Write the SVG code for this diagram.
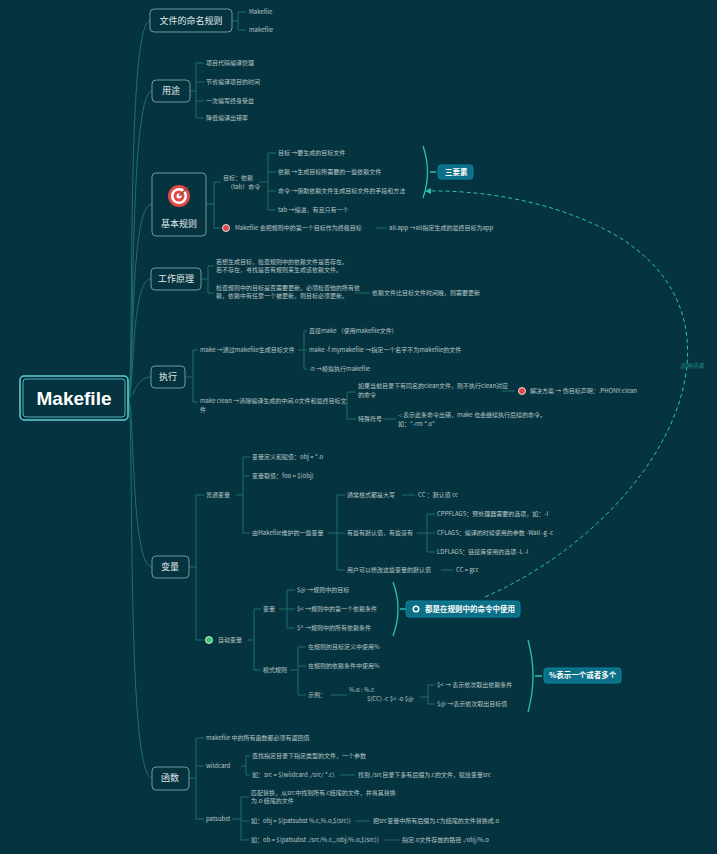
<svg xmlns="http://www.w3.org/2000/svg" width="717" height="854" viewBox="0 0 717 854">
<defs>
<style>
.c{fill:none;stroke:#1f6f6b;stroke-width:1}
.t{font-family:"Noto Sans CJK SC","Liberation Sans",sans-serif;font-size:6px;fill:#b9c6c6}
.b{fill:#053440;stroke:#6f9a9a;stroke-width:1}
.bt{font-family:"Noto Sans CJK SC","Liberation Sans",sans-serif;font-size:9px;fill:#e0e8e8;text-anchor:middle}
.tag{fill:#0b6f87;stroke:#0e85a0}
.tt{font-family:"Noto Sans CJK SC","Liberation Sans",sans-serif;font-size:7.5px;fill:#fff;font-weight:bold}
.br{fill:none;stroke:#2fc0b0;stroke-width:1.3}
</style>
<marker id="ah" markerWidth="6" markerHeight="6" refX="5" refY="3" orient="auto"><path d="M0,0 L6,3 L0,6 z" fill="#2fc0b0"/></marker>
</defs>
<rect width="717" height="854" fill="#053440"/>
<g id="connectors">
<path class="c" d="M128,398 C135,398 125,21 150,21 M128,398 C135,398 128,91 152,91 M128,398 C135,398 128,204 152,204 M128,398 C135,398 130,279 151,279 M128,398 C135,398 135,377 151,377 M128,398 C135,398 130,567 152,567 M128,398 C135,398 125,778 152,778"/>
<path class="c" d="M232,21 H238 M238,12 V30 M238,12 H246 M238,30 H246"/>
<path class="c" d="M190,91 H196 M196,63 V118 M196,63 H204 M196,82 H204 M196,101 H204 M196,118 H204"/>
<path class="c" d="M206,204 H214 M214,182 V228 M214,182 H221 M214,228 H221 M259,182 H268 M268,153 V210 M268,153 H276 M268,172 H276 M268,191 H276 M268,210 H276 M376,228 H387"/>
<path class="c" d="M201,279 H208 M208,266 V293 M208,266 H214 M208,293 H214 M355,293 H370"/>
<path class="c" d="M185,377 H193 M193,350 V402 M193,350 H198 M193,402 H198 M298,350 H304 M304,331 V369 M304,331 H307 M304,350 H307 M304,369 H307 M342,404 H347 M347,392 V419 M347,392 H356 M347,419 H356 M502,391 H515 M383,419 H396"/>
<path class="c" d="M189,567 H196 M196,495 V640 M196,495 H204 M196,640 H204 M236,495 H243 M243,457 V533 M243,457 H250 M243,476 H250 M243,533 H250 M328,533 H337 M337,495 V570 M337,495 H345 M337,533 H345 M337,570 H345 M402,495 H415 M417,533 H427 M427,514 V552 M427,514 H435 M427,533 H435 M427,552 H435 M441,570 H453"/>
<path class="c" d="M248,640 H254 M254,609 V670 M254,609 H261 M254,670 H261 M279,609 H287 M287,590 V628 M287,590 H295 M287,609 H295 M287,628 H295 M290,670 H298 M298,647 V695 M298,647 H306 M298,666 H306 M298,695 H306 M331,695 H347 M420,697 H428 M428,685 V704 M428,685 H435 M428,704 H435"/>
<path class="c" d="M189,778 H196 M196,738 V819 M196,738 H204 M196,766 H204 M196,819 H204 M241,766 H246 M246,756 V775 M246,756 H250 M246,775 H250 M340,775 H355 M232,819 H241 M241,797 V840 M241,797 H249 M241,821 H249 M241,840 H249 M356,821 H370 M385,840 H399"/>
<path class="br" d="M423,146 Q432,172 423,198 M430,172 H436"/>
<path class="br" d="M393,582 Q403,609 393,636 M400,609 H406"/>
<path class="br" d="M528,640 Q538,676 528,712 M535,676 H542"/>
<path d="M485,597 C660,520 770,320 610,232 C550,200 480,190 426,191" fill="none" stroke="#2fc0b0" stroke-width="1" stroke-dasharray="4,3" marker-end="url(#ah)"/>
</g>
<g id="main">
<rect x="20" y="376" width="108" height="44" rx="4" fill="#053440" stroke="#5fd0d6" stroke-width="1.5"/>
<rect x="23" y="379" width="102" height="38" rx="3" fill="none" stroke="#5fd0d6" stroke-width="0.8"/>
<text x="74" y="405" font-family="Liberation Sans,sans-serif" font-size="19" font-weight="bold" fill="#fff" text-anchor="middle">Makefile</text>
</g>
<g id="n-naming"><rect class="b" x="150" y="9" width="82" height="23" rx="4"/><text class="bt" x="191" y="24">文件的命名规则</text>
<text class="t" x="249" y="14">Makefile</text><text class="t" x="249" y="32">makefile</text></g>
<g id="n-use"><rect class="b" x="152" y="80" width="38" height="22" rx="4"/><text class="bt" x="171" y="94">用途</text>
<text class="t" x="206" y="65">项目代码编译管理</text><text class="t" x="206" y="84">节省编译项目的时间</text><text class="t" x="206" y="103">一次编写终身受益</text><text class="t" x="206" y="120">降低编译出错率</text></g>
<g id="n-basic"><rect class="b" x="152" y="173" width="54" height="63" rx="4"/>
<circle cx="179" cy="196" r="11" fill="#e04848"/><circle cx="179" cy="196" r="8" fill="#fff"/><circle cx="179" cy="196" r="5.5" fill="#e04848"/><circle cx="179" cy="196" r="2.5" fill="#fff"/><path d="M179,196 L188,187" stroke="#7a5030" stroke-width="1.5"/>
<text class="bt" x="179" y="227">基本规则</text>
<text class="t" x="223" y="180">目标：依赖</text><text class="t" x="227" y="189">（tab）命令</text>
<text class="t" x="278" y="155">目标 →要生成的目标文件</text><text class="t" x="278" y="174">依赖 →生成目标所需要的一些依赖文件</text><text class="t" x="278" y="193">命令 →借助依赖文件生成目标文件的手段和方法</text><text class="t" x="278" y="212">tab →缩进，有且只有一个</text>
<rect class="tag" x="438" y="165" width="35" height="14" rx="3"/><text class="tt" x="445" y="175">三要素</text>
<circle cx="226" cy="228" r="3.5" fill="#e04848" stroke="#fff" stroke-width="0.8"/>
<text class="t" x="235" y="230">Makefile 会把规则中的第一个目标作为终极目标</text><text class="t" x="389" y="230">all:app →all指定生成的最终目标为app</text></g>
<g id="n-work"><rect class="b" x="151" y="268" width="50" height="22" rx="4"/><text class="bt" x="176" y="282">工作原理</text>
<text class="t" x="216" y="264">若想生成目标，检查规则中的依赖文件是否存在。</text><text class="t" x="216" y="272">若不存在，寻找是否有规则来生成该依赖文件。</text>
<text class="t" x="216" y="290">检查规则中的目标是否需要更新，必须检查他的所有依</text><text class="t" x="216" y="298">赖，依赖中有任意一个被更新，则目标必须更新。</text>
<text class="t" x="372" y="295">依赖文件比目标文件时间晚，则需要更新</text></g>
<g id="n-exec"><rect class="b" x="151" y="366" width="34" height="22" rx="4"/><text class="bt" x="168" y="380">执行</text>
<text class="t" x="200" y="352">make →通过makefile生成目标文件</text>
<text class="t" x="309" y="333">直接make （使用makefile文件)</text><text class="t" x="309" y="352">make -f mymakefile →指定一个名字不为makefile的文件</text><text class="t" x="309" y="371">-n →模拟执行makefile</text>
<text class="t" x="200" y="403">make clean →清除编译生成的中间.o文件和最终目标文</text><text class="t" x="200" y="412">件</text>
<text class="t" x="358" y="388">如果当前目录下有同名的clean文件，则不执行clean对应</text><text class="t" x="358" y="397">的命令</text>
<circle cx="522" cy="391" r="3.5" fill="#e04848" stroke="#fff" stroke-width="0.8"/><text class="t" x="530" y="393">解决方案 → 伪目标声明：.PHONY:clean</text>
<text class="t" x="358" y="421">特殊符号</text><text class="t" x="398" y="417">-: 表示此条命令出错，make 也会继续执行后续的命令。</text><text class="t" x="398" y="426">如："-rm *.o"</text>
<text x="680" y="368" font-family="Noto Sans CJK SC,sans-serif" font-size="6" font-style="italic" fill="#1f8a86">应用场景</text></g>
<g id="n-var"><rect class="b" x="152" y="556" width="37" height="22" rx="4"/><text class="bt" x="170" y="570">变量</text>
<text class="t" x="206" y="497">普通变量</text>
<text class="t" x="252" y="459">变量定义和赋值：obj = *.o</text><text class="t" x="252" y="478">变量取值：foo = $(obj)</text><text class="t" x="252" y="535">由Makefile维护的一些变量</text>
<text class="t" x="347" y="497">通常格式都是大写</text><text class="t" x="418" y="497">CC ：默认值 cc</text>
<text class="t" x="347" y="535">有些有默认值，有些没有</text>
<text class="t" x="437" y="516">CPPFLAGS：预处理器需要的选项，如：-I</text><text class="t" x="437" y="535">CFLAGS：编译的时候使用的参数 -Wall -g -c</text><text class="t" x="437" y="554">LDFLAGS：链接库使用的选项 -L -l</text>
<text class="t" x="347" y="572">用户可以修改这些变量的默认值</text><text class="t" x="456" y="572">CC = gcc</text>
<circle cx="209" cy="640" r="3.5" fill="#3cc46a" stroke="#fff" stroke-width="0.8"/><text class="t" x="218" y="642">自动变量</text>
<text class="t" x="263" y="611">变量</text>
<text class="t" x="297" y="592">$@ →规则中的目标</text><text class="t" x="297" y="611">$&lt; →规则中的第一个依赖条件</text><text class="t" x="297" y="630">$^ →规则中的所有依赖条件</text>
<rect class="tag" x="406" y="601" width="114" height="16" rx="3"/><circle cx="416" cy="609" r="3.5" fill="#fff"/><circle cx="416" cy="609" r="2" fill="#0b6f87"/><text class="tt" x="425" y="612">都是在规则中的命令中使用</text>
<text class="t" x="263" y="672">模式规则</text>
<text class="t" x="308" y="649">在规则的目标定义中使用%</text><text class="t" x="308" y="668">在规则的依赖条件中使用%</text><text class="t" x="308" y="697">示例：</text>
<text class="t" x="349" y="692">%.o : %.c</text><text class="t" x="367" y="701">$(CC) -c $&lt; -o $@</text>
<text class="t" x="437" y="687">$&lt; → 表示依次取出依赖条件</text><text class="t" x="437" y="706">$@ →表示依次取出目标值</text>
<rect class="tag" x="544" y="668" width="77" height="15" rx="3"/><text class="tt" x="549" y="678">%表示一个或者多个</text></g>
<g id="n-func"><rect class="b" x="152" y="767" width="37" height="23" rx="4"/><text class="bt" x="170" y="781">函数</text>
<text class="t" x="206" y="740">makefile 中的所有函数都必须有返回值</text><text class="t" x="206" y="768">wildcard</text><text class="t" x="206" y="821">patsubst</text>
<text class="t" x="252" y="758">查找指定目录下指定类型的文件，一个参数</text><text class="t" x="252" y="777">如：src = $(wildcard ./src/ *.c)</text><text class="t" x="358" y="777">找到./src目录下多有后缀为.c的文件，赋给变量src</text>
<text class="t" x="251" y="795">匹配替换，从src中找到所有.c结尾的文件，并将其替换</text><text class="t" x="251" y="803">为.o 结尾的文件</text>
<text class="t" x="251" y="823">如：obj = $(patsubst %.c,%.o,$(src))</text><text class="t" x="373" y="823">把src变量中所有后缀为.c为结尾的文件替换成.o</text>
<text class="t" x="251" y="842">如：ob = $(patsubst ./src/%.c,./obj/%.o,$(src))</text><text class="t" x="402" y="842">指定.o文件存放的路径 ./obj/%.o</text></g>
</svg>
